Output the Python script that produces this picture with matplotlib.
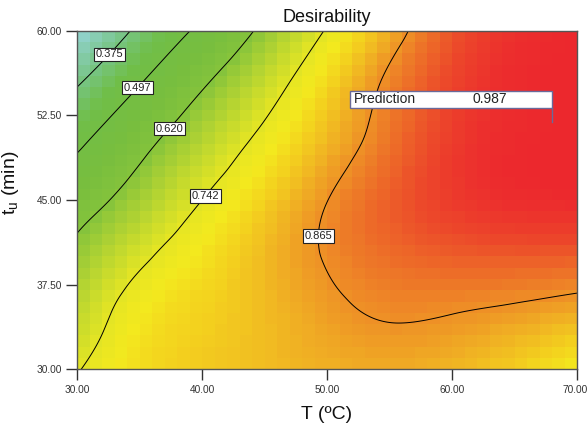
import numpy as np
import matplotlib
matplotlib.use("Agg")
import matplotlib.pyplot as plt
import matplotlib.tri as mtri
import matplotlib.transforms as mtrans
from matplotlib.colors import LinearSegmentedColormap, Normalize
from matplotlib.patches import Rectangle

plt.rcParams['font.family'] = ['Liberation Sans', 'DejaVu Sans']

# ---- data ----
T_vals = [30, 35, 40, 45, 50, 55, 60, 65, 70]          # T (ºC)
tu_vals = [30, 35, 40, 45, 50, 55, 60]                  # t_u (min)
D_t30 = [0.738, 0.790, 0.810, 0.825, 0.835, 0.840, 0.830, 0.805, 0.770]
D_t35 = [0.693, 0.772, 0.802, 0.825, 0.852, 0.870, 0.866, 0.855, 0.838]
D_t40 = [0.645, 0.728, 0.782, 0.826, 0.869, 0.900, 0.915, 0.920, 0.918]
D_t45 = [0.575, 0.662, 0.742, 0.803, 0.864, 0.915, 0.955, 0.975, 0.980]
D_t50 = [0.480, 0.593, 0.686, 0.762, 0.830, 0.895, 0.955, 0.982, 0.987]
D_t55 = [0.375, 0.500, 0.615, 0.710, 0.799, 0.878, 0.945, 0.980, 0.987]
D_t60 = [0.2525, 0.395, 0.520, 0.640, 0.747, 0.837, 0.925, 0.970, 0.985]
contour_levels = [0.375, 0.497, 0.620, 0.742, 0.865]
label_anchor_T = [32.2, 34.6, 37.2, 40.0, 49.4]
label_anchor_t = [58.3, 55.2, 51.5, 45.6, 41.8]
pred_T, pred_t, pred_value = 68.0, 51.9, 0.987
d_min, d_max = 0.2525, 0.9875
x_ticks = [30, 40, 50, 60, 70]
y_ticks = [30.0, 37.5, 45.0, 52.5, 60.0]

# ---- surface ----
D = np.array([D_t30, D_t35, D_t40, D_t45, D_t50, D_t55, D_t60])
TT, YY = np.meshgrid(T_vals, tu_vals)
tri = mtri.Triangulation(TT.ravel(), YY.ravel())
interp = mtri.CubicTriInterpolator(tri, D.ravel(), kind='min_E')

# colour map keyed to desirability values
nodes = [
    (0.2525, (150, 212, 218)),
    (0.375, (118, 196, 128)),
    (0.45, (112, 190, 72)),
    (0.56, (120, 190, 62)),
    (0.62, (132, 195, 60)),
    (0.68, (178, 211, 50)),
    (0.742, (228, 229, 36)),
    (0.775, (243, 233, 30)),
    (0.805, (243, 208, 30)),
    (0.835, (240, 178, 35)),
    (0.865, (238, 145, 38)),
    (0.90, (237, 110, 40)),
    (0.94, (236, 72, 42)),
    (0.975, (236, 46, 45)),
    (0.9875, (236, 40, 45)),
]
cmap = LinearSegmentedColormap.from_list(
    'dx', [((v - d_min) / (d_max - d_min), tuple(c / 255 for c in rgb)) for v, rgb in nodes])
norm = Normalize(d_min, d_max)

fig = plt.figure(figsize=(5.88, 4.33), dpi=100)
ax = fig.add_axes([0.1310, 0.1471, 0.8503, 0.7820])

# blocky cells like the reference
xe = np.linspace(30, 70, 41)
ye = np.linspace(30, 60, 31)
xc = 0.5 * (xe[:-1] + xe[1:])
yc = 0.5 * (ye[:-1] + ye[1:])
XC, YC = np.meshgrid(xc, yc)
ZC = interp(XC, YC)
ax.pcolormesh(xe, ye, ZC, cmap=cmap, norm=norm, shading='flat')

# contours on a fine grid
xf = np.linspace(30, 70, 241)
yf = np.linspace(30, 60, 181)
XF, YF = np.meshgrid(xf, yf)
ZF = interp(XF, YF)
cs = ax.contour(XF, YF, ZF, levels=contour_levels, colors='black', linewidths=0.7)
labels = ax.clabel(cs, contour_levels, inline=False, fmt='%.3f', fontsize=8,
                   manual=list(zip(label_anchor_T, label_anchor_t)))
for lab in labels:
    lab.set_rotation(0)
    lab.set_color('#222222')
    lab.set_bbox(dict(facecolor='white', edgecolor='#222222', linewidth=0.8, pad=1.2))
    lab.set_zorder(5)

# prediction flag
box_w, box_h = 16.16, 1.51
ax.add_patch(Rectangle((pred_T - box_w, pred_t + 1.25), box_w, box_h,
                       facecolor='white', edgecolor='#6a6a9a', linewidth=1.0, zorder=6))
ax.plot([pred_T, pred_T], [pred_t, pred_t + 1.25], color='#6a6a9a', lw=1.0, zorder=6)
ax.text(pred_T - box_w + 0.3, pred_t + 1.25 + box_h / 2, 'Prediction', fontsize=10,
        va='center', ha='left', color='#222222', zorder=7)
ax.text(pred_T - 5.0, pred_t + 1.25 + box_h / 2, f'{pred_value:.3f}', fontsize=10,
        va='center', ha='center', color='#222222', zorder=7)

ax.set_xlim(30, 70)
ax.set_ylim(30, 60)
ax.set_xticks(x_ticks)
ax.set_yticks(y_ticks)
ax.set_xticklabels([f'{v:.2f}' for v in x_ticks])
ax.set_yticklabels([f'{v:.2f}' for v in y_ticks])
ax.tick_params(axis='both', labelsize=7.3, colors='#333333', length=8, width=1, pad=3)
# keep the last x tick label inside the canvas
last = ax.get_xticklabels()[-1]
last.set_transform(last.get_transform() + mtrans.ScaledTranslation(-2 / 100, 0, fig.dpi_scale_trans))
for s in ax.spines.values():
    s.set_color('#555555')
    s.set_linewidth(1.0)

ax.set_title('Desirability', fontsize=13, pad=6, color='#111111')
ax.set_xlabel('T (ºC)', fontsize=14, color='#111111', labelpad=8)
ax.set_ylabel(r'$\mathregular{t_u}$ (min)', fontsize=14, color='#111111')
ax.yaxis.set_label_coords(-0.112, 0.55)

fig.savefig('out.png', dpi=100)
